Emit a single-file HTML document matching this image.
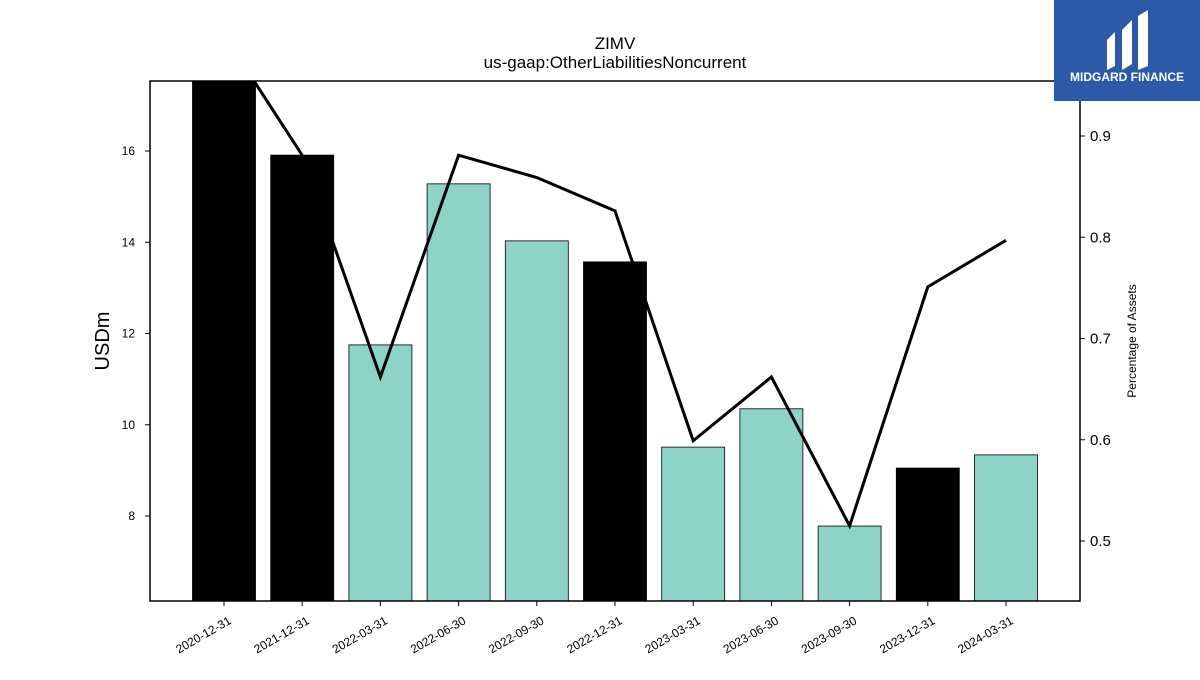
<!DOCTYPE html>
<html><head><meta charset="utf-8"><style>
body{margin:0;background:#fff;font-family:"Liberation Sans","DejaVu Sans",sans-serif}
</style></head><body>
<svg id="chart" width="1200" height="675" xmlns="http://www.w3.org/2000/svg">
<text x="615" y="49" text-anchor="middle" font-size="17">ZIMV</text>
<text x="615" y="68" text-anchor="middle" font-size="17">us-gaap:OtherLiabilitiesNoncurrent</text>
<g id="bars"></g><g id="line"></g><g id="axes"></g>
<text transform="translate(109,341) rotate(-90)" text-anchor="middle" font-size="20">USDm</text>
<text transform="translate(1136,341) rotate(-90)" text-anchor="middle" font-size="12">Percentage of Assets</text>
<g>
<rect x="1054" y="0" width="146" height="101" fill="#2c5aa8"/>
<path d="M1107 40 l8 -8 v34 l-8 4z M1122 30 l10 -10 v44 l-10 6z M1138 16 l10 -6 v56 l-10 4z" fill="#fff"/>
<text x="1127" y="81" text-anchor="middle" font-size="12" font-weight="bold" fill="#fff">MIDGARD FINANCE</text>
</g>
</svg>
<script>
const categories=["2020-12-31","2021-12-31","2022-03-31","2022-06-30","2022-09-30","2022-12-31","2023-03-31","2023-06-30","2023-09-30","2023-12-31","2024-03-31"];
const values=[17.6,15.91,11.75,15.28,14.03,13.57,9.51,10.35,7.78,9.05,9.34];
const pctAssets=[1.0,0.881,0.662,0.881,0.859,0.826,0.599,0.662,0.515,0.751,0.797];
const leftTicks=[8,10,12,14,16];
const rightTicks=[0.5,0.6,0.7,0.8,0.9];
const NS="http://www.w3.org/2000/svg";
const L=150,R=1080,T=81,B=601;
const yL=v=>516-(v-8)*45.625;
const yR=v=>541-(v-0.5)*1012.5;
const xC=i=>224+i*78.2;
function mk(tag,attrs,parent){const e=document.createElementNS(NS,tag);for(const k in attrs)e.setAttribute(k,attrs[k]);parent.appendChild(e);return e;}
const bars=document.getElementById('bars'),line=document.getElementById('line'),axes=document.getElementById('axes');
const clip=mk('clipPath',{id:'pc'},document.getElementById('chart'));mk('rect',{x:L,y:T,width:R-L,height:B-T},clip);
bars.setAttribute('clip-path','url(#pc)');line.setAttribute('clip-path','url(#pc)');
values.forEach((v,i)=>{
 const y=yL(v);
 const r=mk('rect',{x:xC(i)-31.5,y:y,width:63,height:B-y,fill:categories[i].endsWith('12-31')?'#000':'#8dd3c7',stroke:'#000','stroke-width':0.8},bars);
 
 
 const t=mk('text',{transform:`translate(${xC(i)+8},${B+22}) rotate(-30)`,'text-anchor':'end','font-size':12},axes);
 t.textContent=categories[i];
 
 
 mk('line',{x1:xC(i),x2:xC(i),y1:B,y2:B+5,stroke:'#000'},axes);
});
const p=mk('polyline',{points:pctAssets.map((v,i)=>xC(i)+','+yR(v)).join(' '),fill:'none',stroke:'#000','stroke-width':3},line);


const fr=mk('rect',{x:L,y:T,width:R-L,height:B-T,fill:'none',stroke:'#000','stroke-width':1.5},axes);


leftTicks.forEach(v=>{
 mk('line',{x1:L-5,x2:L,y1:yL(v),y2:yL(v),stroke:'#000'},axes);
 const t=mk('text',{x:L-15,y:yL(v)+4,'text-anchor':'end','font-size':12},axes);t.textContent=v;
 
 
});
rightTicks.forEach(v=>{
 mk('line',{x1:R,x2:R+5,y1:yR(v),y2:yR(v),stroke:'#000'},axes);
 const t=mk('text',{x:R+10,y:yR(v)+5,'font-size':15},axes);t.textContent=v.toFixed(1);
 
 
});
</script>
</body></html>
